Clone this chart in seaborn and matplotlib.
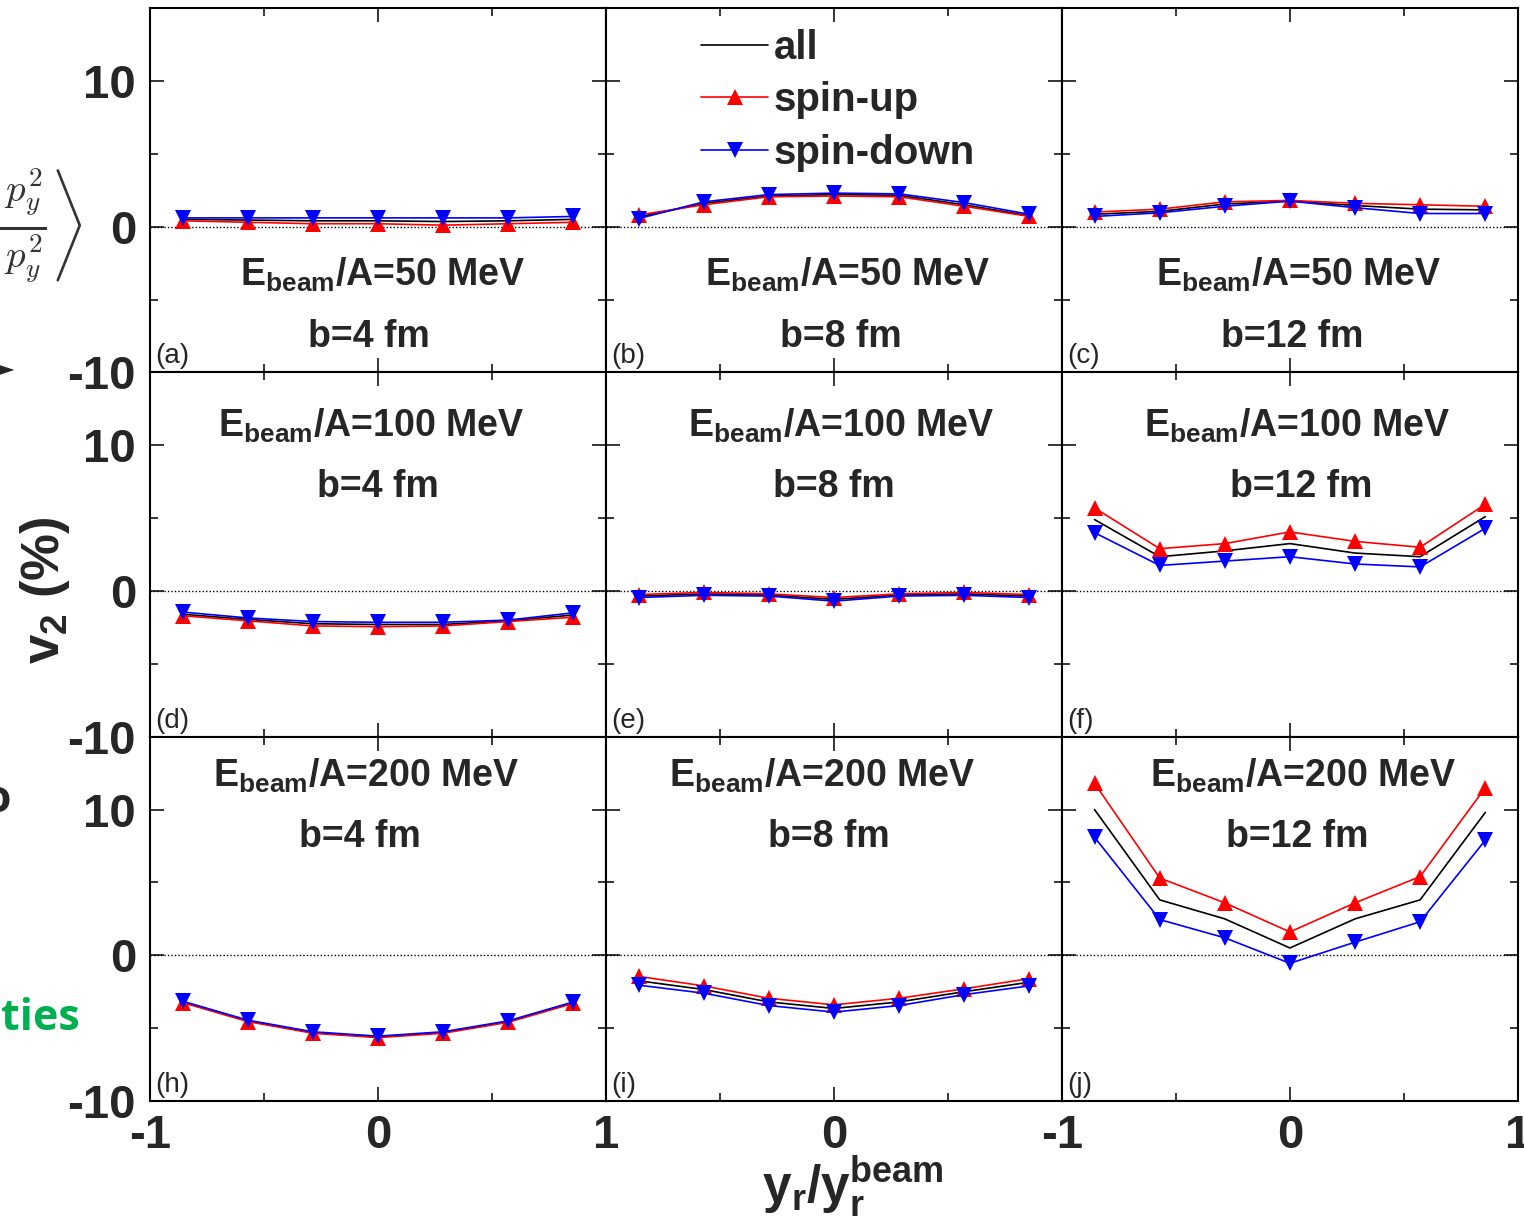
import numpy as np
import pandas as pd
import matplotlib
matplotlib.use("Agg")
import matplotlib.pyplot as plt
from matplotlib import font_manager
from matplotlib.lines import Line2D
from matplotlib.ticker import MultipleLocator
import seaborn as sns

# ---------------- data ----------------
x_vals = [-0.857, -0.571, -0.286, 0.0, 0.286, 0.571, 0.857]
series_names = ["all", "spin-up", "spin-down"]

a_all = [0.5, 0.45, 0.4, 0.4, 0.35, 0.4, 0.5]
a_up = [0.4, 0.3, 0.2, 0.2, 0.1, 0.2, 0.3]
a_down = [0.6, 0.6, 0.6, 0.6, 0.6, 0.6, 0.7]

b_all = [0.65, 1.6, 2.1, 2.2, 2.15, 1.5, 0.75]
b_up = [0.8, 1.5, 2.05, 2.1, 2.05, 1.4, 0.7]
b_down = [0.55, 1.7, 2.2, 2.3, 2.25, 1.65, 0.85]

c_all = [0.85, 1.05, 1.55, 1.75, 1.45, 1.2, 1.15]
c_up = [1.0, 1.2, 1.7, 1.8, 1.6, 1.5, 1.4]
c_down = [0.7, 0.95, 1.4, 1.75, 1.3, 0.9, 0.9]

d_all = [-1.6, -1.95, -2.25, -2.3, -2.3, -2.05, -1.65]
d_up = [-1.7, -2.05, -2.4, -2.45, -2.4, -2.1, -1.8]
d_down = [-1.45, -1.85, -2.1, -2.15, -2.15, -2.0, -1.5]

e_all = [-0.35, -0.2, -0.28, -0.58, -0.28, -0.2, -0.35]
e_up = [-0.25, -0.1, -0.2, -0.45, -0.2, -0.1, -0.25]
e_down = [-0.45, -0.3, -0.35, -0.7, -0.35, -0.3, -0.45]

f_all = [4.9, 2.35, 2.75, 3.25, 2.6, 2.35, 5.1]
f_up = [5.7, 2.9, 3.25, 4.05, 3.4, 3.0, 5.95]
f_down = [4.0, 1.75, 2.05, 2.35, 1.85, 1.65, 4.3]

h_all = [-3.2, -4.5, -5.3, -5.6, -5.3, -4.55, -3.25]
h_up = [-3.25, -4.55, -5.35, -5.65, -5.35, -4.6, -3.3]
h_down = [-3.15, -4.45, -5.25, -5.55, -5.25, -4.5, -3.2]

i_all = [-1.75, -2.35, -3.2, -3.65, -3.2, -2.5, -1.85]
i_up = [-1.45, -2.1, -2.95, -3.4, -2.95, -2.3, -1.6]
i_down = [-2.05, -2.6, -3.45, -3.9, -3.45, -2.7, -2.1]

j_all = [10.0, 3.8, 2.5, 0.5, 2.5, 3.8, 9.8]
j_up = [11.8, 5.3, 3.6, 1.6, 3.6, 5.4, 11.5]
j_down = [8.1, 2.45, 1.2, -0.55, 0.9, 2.3, 7.9]

panel_letters = ["(a)", "(b)", "(c)", "(d)", "(e)", "(f)", "(h)", "(i)", "(j)"]
energies = ["50", "50", "50", "100", "100", "100", "200", "200", "200"]
impacts = ["4", "8", "12", "4", "8", "12", "4", "8", "12"]

panel_data = [
    (a_all, a_up, a_down), (b_all, b_up, b_down), (c_all, c_up, c_down),
    (d_all, d_up, d_down), (e_all, e_up, e_down), (f_all, f_up, f_down),
    (h_all, h_up, h_down), (i_all, i_up, i_down), (j_all, j_up, j_down),
]

yticks = [-10, 0, 10]
ytick_labels = ["-10", "0", "10"]
xticks = [-1, 0, 1]
xtick_labels = ["-1", "0", "1"]

rows = []
for p, trio in enumerate(panel_data):
    for name, vals in zip(series_names, trio):
        for xv, yv in zip(x_vals, vals):
            rows.append({"panel": p, "series": name, "x": xv, "v2": yv})
df = pd.DataFrame(rows)

# ---------------- style ----------------
sns.set_style("ticks")
available = {f.name for f in font_manager.fontManager.ttflist}
main_font = "Liberation Sans Narrow" if "Liberation Sans Narrow" in available else "Liberation Sans"
plt.rcParams["font.family"] = [main_font, "DejaVu Sans"]
plt.rcParams["mathtext.fontset"] = "custom"
plt.rcParams["mathtext.rm"] = f"{main_font}:bold"
plt.rcParams["mathtext.it"] = f"{main_font}:bold"
plt.rcParams["mathtext.bf"] = f"{main_font}:bold"
plt.rcParams["mathtext.sf"] = f"{main_font}:bold"

styles = {
    "all": dict(color="black", marker=None),
    "spin-up": dict(color="#ff0000", marker="^"),
    "spin-down": dict(color="#0000ff", marker="v"),
}

fig = plt.figure(figsize=(15.24, 12.19), dpi=100)
axes = fig.subplots(3, 3)
fig.subplots_adjust(left=0.0984, right=0.996, top=0.9934, bottom=0.0968, wspace=0, hspace=0)

text_pos = {
    0: ((0.02, -3.3), (-0.04, -7.6)),
    1: ((0.06, -3.3), (0.03, -7.6)),
    2: ((0.04, -3.3), (0.01, -7.6)),
    3: ((-0.03, 11.3), (0.0, 7.1)),
    4: ((0.03, 11.3), (0.0, 7.1)),
    5: ((0.03, 11.3), (0.05, 7.1)),
    6: ((-0.05, 12.3), (-0.08, 8.1)),
    7: ((-0.05, 12.3), (-0.02, 8.1)),
    8: ((0.06, 12.3), (0.03, 8.1)),
}

for p, ax in enumerate(axes.flat):
    r, c = divmod(p, 3)
    ax.axhline(0, color="black", lw=1.0, ls=(0, (1, 1.5)), zorder=1)
    sub = df[df["panel"] == p]
    for name in series_names:
        s = sub[sub["series"] == name]
        st = styles[name]
        sns.lineplot(x=s["x"].to_numpy(), y=s["v2"].to_numpy(), ax=ax, color=st["color"],
                     marker=st["marker"], markersize=12, markeredgewidth=0,
                     linewidth=1.2, zorder=3)
    ax.set_xlim(-1, 1)
    ax.set_ylim(-10, 15)
    ax.set_xticks(xticks)
    ax.set_yticks(yticks)
    ax.xaxis.set_minor_locator(MultipleLocator(0.5))
    ax.yaxis.set_minor_locator(MultipleLocator(5))
    ax.tick_params(which="both", direction="in", top=True, right=True, width=1.3)
    ax.tick_params(which="major", length=10)
    ax.tick_params(which="minor", length=6)
    for sp in ax.spines.values():
        sp.set_linewidth(1.5)
        sp.set_color("black")
    ax.set_xlabel("")
    ax.set_ylabel("")
    if c == 0:
        ax.set_yticklabels(ytick_labels, fontsize=34, fontweight="bold")
        ax.tick_params(axis="y", pad=10)
    else:
        ax.tick_params(labelleft=False)
    if r == 2:
        if c == 1:
            ax.set_xticklabels(["", xtick_labels[1], ""], fontsize=34, fontweight="bold")
        else:
            ax.set_xticklabels(xtick_labels, fontsize=34, fontweight="bold")
        ax.tick_params(axis="x", pad=9)
    else:
        ax.tick_params(labelbottom=False)

    (ex, ey), (bx, by) = text_pos[p]
    ax.text(ex, ey, r"E$_{\mathrm{beam}}$/A=" + energies[p] + " MeV", ha="center", va="center",
            fontsize=27, fontweight="bold")
    ax.text(bx, by, "b=" + impacts[p] + " fm", ha="center", va="center",
            fontsize=27, fontweight="bold")
    ax.text(0.012, 0.008, panel_letters[p], transform=ax.transAxes, ha="left", va="bottom",
            fontsize=20)

# legend in panel (b)
handles = [
    Line2D([], [], color="black", lw=1.2),
    Line2D([], [], color="#ff0000", lw=1.2, marker="^", markersize=12, markeredgewidth=0),
    Line2D([], [], color="#0000ff", lw=1.2, marker="v", markersize=12, markeredgewidth=0),
]
leg = axes[0, 1].legend(handles, series_names, loc="upper left", bbox_to_anchor=(0.13, 1.043),
                        frameon=False, handlelength=1.65, handletextpad=0.15, labelspacing=0.36,
                        prop={"size": 29, "weight": "bold"})

# axis labels
fig.text(45 / 1524, 1 - 590 / 1219, r"v$_2$ (%)", rotation=90, ha="center", va="center",
         fontsize=38, fontweight="bold")
fig.text(853 / 1524, 1 - 1186 / 1219, r"y$_\mathrm{r}$/y$_\mathrm{r}^\mathrm{beam}$",
         ha="center", va="center", fontsize=37, fontweight="bold")

# slide fragments clipped at the left edge
fig.text(82 / 1524, 1 - 225 / 1219,
         r"$\left\langle \frac{p_x^2 - p_y^2}{p_x^2 + p_y^2} \right\rangle$",
         ha="right", va="center", fontsize=40, math_fontfamily="cm", color="#333333")
fig.text(14 / 1524, 1 - 370 / 1219, "\u25ba", ha="right", va="center", fontsize=22,
         family="DejaVu Sans")
fig.text(12 / 1524, 1 - 800 / 1219, "o", ha="right", va="center", fontsize=32,
         fontweight="bold", family="Open Sans")
fig.text(1 / 1524, 1 - 1018 / 1219, "ties", ha="left", va="center", fontsize=31,
         fontweight="bold", color="#00b050", family="Open Sans")

fig.savefig("out.png", dpi=100)
